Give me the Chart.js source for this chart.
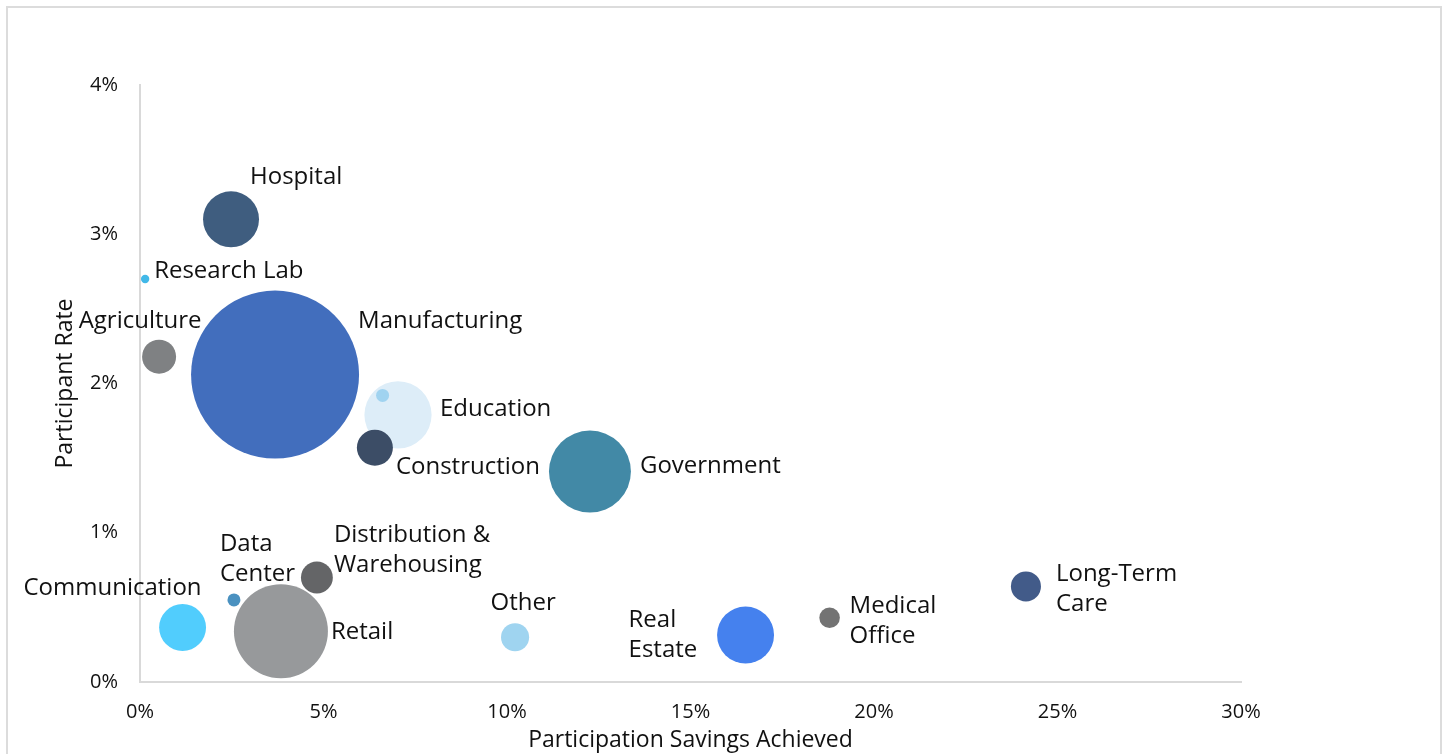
<!DOCTYPE html>
<html>
<head>
<meta charset="utf-8">
<script src="https://cdn.jsdelivr.net/npm/chart.js@4"></script>
<style>
  html, body { margin: 0; padding: 0; background: #fff; overflow: hidden; }
  #wrap { position: relative; width: 1445px; height: 754px; }
  #frame { position: absolute; left: 6px; top: 6px; width: 1436px; height: 800px; border: 2px solid #dcdcdc; box-sizing: border-box; pointer-events: none; }
  canvas { position: absolute; left: 0; top: 0; }
</style>
</head>
<body>
<div id="wrap">
  <canvas id="bubbleChart" width="1445" height="754"></canvas>
  <div id="frame"></div>
</div>
<script>
// industries, savings achieved (%), participant rate (%), relative bubble size
const industries = ['Hospital', 'Research Lab', 'Agriculture', 'Manufacturing', 'Education', '(unlabeled)',
  'Construction', 'Government', 'Data Center', 'Distribution & Warehousing', 'Communication', 'Retail',
  'Other', 'Real Estate', 'Medical Office', 'Long-Term Care'];
const savingsAchieved = [2.48, 0.14, 0.52, 3.68, 7.03, 6.61, 6.40, 12.26, 2.56, 4.82, 1.16, 3.84, 10.22, 16.50, 18.79, 24.14];
const participantRate = [3.10, 2.70, 2.18, 2.06, 1.79, 1.92, 1.57, 1.41, 0.55, 0.70, 0.365, 0.34, 0.30, 0.315, 0.43, 0.64];
const bubbleSize = [11.1, 0.25, 4.1, 100, 16.0, 0.6, 4.6, 23.8, 0.6, 3.6, 7.8, 31.3, 2.8, 11.5, 1.5, 3.2];
const xTicks = [0, 5, 10, 15, 20, 25, 30];
const yTicks = [0, 1, 2, 3, 4];

const colors = ['#3f5d7f', '#41b8e8', '#7f8183', '#426ebd', '#ddedf8', '#a0d3f0', '#3c4d66', '#4289a6',
  '#4a91c0', '#646567', '#51cdfd', '#97999b', '#9fd4f0', '#4581ee', '#737373', '#425b89'];

// label placement relative to bubble centre
const labelPos = [
  { lines: ['Hospital'], dx: 19, dy: -42 },
  { lines: ['Research Lab'], dx: 9, dy: -8 },
  { lines: ['Agriculture'], dx: -19, dy: -35, align: 'center' },
  { lines: ['Manufacturing'], dx: 83, dy: -53 },
  { lines: ['Education'], dx: 42, dy: -6 },
  null,
  { lines: ['Construction'], dx: 21, dy: 19 },
  { lines: ['Government'], dx: 50, dy: -5 },
  { lines: ['Data', 'Center'], dx: -14, dy: -56 },
  { lines: ['Distribution &', 'Warehousing'], dx: 17, dy: -42 },
  { lines: ['Communication'], dx: 19, dy: -39, align: 'right' },
  { lines: ['Retail'], dx: 50, dy: 1 },
  { lines: ['Other'], dx: 8, dy: -34, align: 'center' },
  { lines: ['Real', 'Estate'], dx: -117, dy: -15 },
  { lines: ['Medical', 'Office'], dx: 20, dy: -12 },
  { lines: ['Long-Term', 'Care'], dx: 30, dy: -12 }
];

const points = industries.map((name, i) => ({
  x: savingsAchieved[i],
  y: participantRate[i],
  r: 8.4 * Math.sqrt(bubbleSize[i])
}));

const bubbleLabels = {
  id: 'bubbleLabels',
  afterDatasetsDraw(chart) {
    const ctx = chart.ctx;
    const meta = chart.getDatasetMeta(0);
    ctx.save();
    ctx.font = '24px "Open Sans"';
    ctx.fillStyle = '#111';
    ctx.textBaseline = 'middle';
    meta.data.forEach((pt, i) => {
      const pos = labelPos[i];
      if (!pos) return;
      ctx.textAlign = pos.align || 'left';
      pos.lines.forEach((line, j) => {
        ctx.fillText(line, pt.x + pos.dx, pt.y + pos.dy + j * 30);
      });
    });
    ctx.restore();
  }
};

const ctx = document.getElementById('bubbleChart').getContext('2d');
new Chart(ctx, {
  type: 'bubble',
  data: {
    datasets: [{
      label: 'Industries',
      data: points,
      backgroundColor: colors,
      borderWidth: 0,
      hoverBorderWidth: 0
    }]
  },
  options: {
    responsive: false,
    animation: false,
    events: [],
    layout: { autoPadding: false, padding: { top: 85, right: 204, left: 0, bottom: 0 } },
    plugins: { legend: { display: false }, tooltip: { enabled: false } },
    scales: {
      x: {
        type: 'linear',
        min: 0,
        max: 30,
        afterBuildTicks: (scale) => { scale.ticks = xTicks.map(v => ({ value: v })); },
        afterFit: (scale) => { scale.height = 72; },
        grid: { display: false, drawTicks: false },
        border: { display: true, color: '#d9d9d9', width: 2 },
        ticks: {
          padding: 18,
          color: '#111',
          font: { family: 'Open Sans', size: 20 },
          callback: (v) => v + '%'
        },
        title: {
          display: true,
          text: 'Participation Savings Achieved',
          color: '#111',
          font: { family: 'Open Sans', size: 23 },
          padding: { top: 0, bottom: 0 }
        }
      },
      y: {
        type: 'linear',
        min: 0,
        max: 4,
        afterBuildTicks: (scale) => { scale.ticks = yTicks.map(v => ({ value: v })); },
        afterFit: (scale) => { scale.width = 140; },
        grid: { display: false, drawTicks: false },
        border: { display: true, color: '#d9d9d9', width: 2 },
        ticks: {
          padding: 22,
          color: '#111',
          font: { family: 'Open Sans', size: 20 },
          callback: (v) => v + '%'
        },
        title: {
          display: true,
          text: 'Participant Rate',
          color: '#111',
          font: { family: 'Open Sans', size: 23 },
          padding: { top: 52, bottom: 0 }
        }
      }
    }
  },
  plugins: [bubbleLabels]
});
</script>
</body>
</html>
